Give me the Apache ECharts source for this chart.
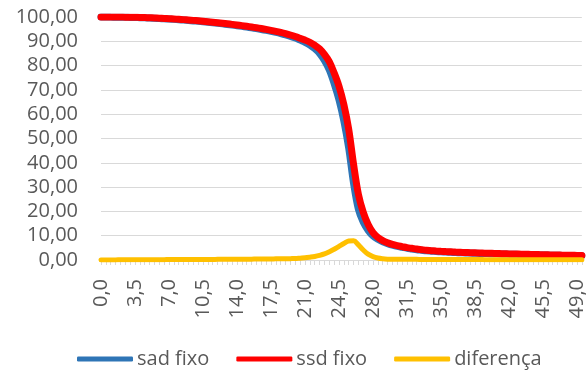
<!DOCTYPE html>
<html style="height: 100%">
<head>
<meta charset="utf-8">
<script src="https://cdn.jsdelivr.net/npm/echarts@6/dist/echarts.min.js"></script>
</head>
<body style="height: 100%; margin: 0; background: #fff">
<div id="container" style="width: 587px; height: 371px"></div>
<script type="text/javascript">
// categorias (0,0 ... 49,5 passo 0,5)
var categorias = [];
for (var i = 0; i < 100; i++) {
	categorias.push((i * 0.5).toFixed(1).replace('.', ','));
}

var nomes = ['sad fixo', 'ssd fixo', 'diferença'];

var sadFixo = [
	99.98, 99.97, 99.95, 99.93, 99.90, 99.87, 99.83, 99.78, 99.72, 99.65,
	99.57, 99.48, 99.38, 99.27, 99.15, 99.02, 98.88, 98.73, 98.57, 98.40,
	98.22, 98.03, 97.83, 97.62, 97.40, 97.17, 96.93, 96.68, 96.42, 96.14,
	95.84, 95.53, 95.20, 94.85, 94.48, 94.08, 93.64, 93.16, 92.63, 92.04,
	91.37, 90.50, 89.60, 88.45, 86.95, 85.00, 82.10, 78.20, 72.60, 65.90,
	57.20, 46.00, 31.50, 20.80, 15.50, 12.20, 9.90, 8.50, 7.50, 6.75,
	6.10, 5.58, 5.20, 4.82, 4.53, 4.24, 4.00, 3.76, 3.62, 3.48,
	3.36, 3.25, 3.16, 3.06, 2.99, 2.92, 2.85, 2.79, 2.72, 2.67,
	2.61, 2.56, 2.50, 2.45, 2.39, 2.34, 2.30, 2.25, 2.20, 2.16,
	2.11, 2.06, 2.02, 1.97, 1.93, 1.89, 1.86, 1.83, 1.80, 1.77
];

var ssdFixo = [
	100.00, 100.00, 99.99, 99.98, 99.96, 99.94, 99.91, 99.87, 99.82, 99.76,
	99.69, 99.61, 99.52, 99.42, 99.31, 99.19, 99.06, 98.92, 98.77, 98.61,
	98.44, 98.26, 98.07, 97.87, 97.66, 97.44, 97.21, 96.97, 96.72, 96.46,
	96.18, 95.89, 95.58, 95.25, 94.90, 94.52, 94.11, 93.66, 93.16, 92.60,
	91.97, 91.25, 90.50, 89.60, 88.40, 86.90, 84.60, 81.60, 77.00, 71.50,
	64.00, 53.80, 39.40, 27.00, 19.60, 14.60, 11.30, 9.30, 8.00, 7.10,
	6.40, 5.90, 5.50, 5.10, 4.80, 4.50, 4.25, 4.00, 3.85, 3.70,
	3.57, 3.45, 3.35, 3.25, 3.17, 3.09, 3.02, 2.95, 2.88, 2.82,
	2.76, 2.70, 2.64, 2.58, 2.52, 2.47, 2.42, 2.37, 2.32, 2.27,
	2.22, 2.17, 2.12, 2.07, 2.03, 1.99, 1.95, 1.92, 1.89, 1.86
];

var diferenca = [
	0.02, 0.03, 0.04, 0.05, 0.06, 0.07, 0.08, 0.09, 0.10, 0.11,
	0.12, 0.13, 0.14, 0.15, 0.16, 0.17, 0.18, 0.19, 0.20, 0.21,
	0.22, 0.23, 0.24, 0.25, 0.26, 0.27, 0.28, 0.29, 0.30, 0.32,
	0.34, 0.36, 0.38, 0.40, 0.42, 0.44, 0.47, 0.50, 0.53, 0.56,
	0.60, 0.75, 0.90, 1.15, 1.45, 1.90, 2.50, 3.40, 4.40, 5.60,
	6.80, 7.80, 7.90, 6.20, 4.10, 2.40, 1.40, 0.80, 0.50, 0.35,
	0.30, 0.32, 0.30, 0.28, 0.27, 0.26, 0.25, 0.24, 0.23, 0.22,
	0.21, 0.20, 0.19, 0.19, 0.18, 0.17, 0.17, 0.16, 0.16, 0.15,
	0.15, 0.14, 0.14, 0.13, 0.13, 0.13, 0.12, 0.12, 0.12, 0.11,
	0.11, 0.11, 0.10, 0.10, 0.10, 0.10, 0.09, 0.09, 0.09, 0.09
];

var cores = ['#2e75b6', '#ff0000', '#ffc000'];
var fonte = '"Open Sans", sans-serif';

var myChart = echarts.init(document.getElementById('container'));

var option = {
	animation: false,
	color: cores,
	grid: {
		left: 101,
		top: 17,
		width: 493,
		height: 243
	},
	legend: {
		data: nomes,
		left: 77,
		top: 349,
		padding: 0,
		icon: 'roundRect',
		itemWidth: 56,
		itemHeight: 5,
		itemGap: 27,
		textStyle: { color: '#595959', fontSize: 20, fontFamily: fonte, padding: [0, 0, 0, -1] }
	},
	xAxis: {
		type: 'category',
		data: categorias,
		boundaryGap: false,
		axisLine: { lineStyle: { color: '#d9d9d9', width: 1 } },
		axisTick: { interval: 0, length: 5, lineStyle: { color: '#d9d9d9' } },
		axisLabel: {
			interval: 6,
			rotate: 90,
			margin: 19,
			color: '#595959',
			fontSize: 20,
			fontFamily: fonte
		},
		splitLine: { show: false }
	},
	yAxis: {
		type: 'value',
		min: 0,
		max: 100,
		interval: 10,
		axisLine: { show: false },
		axisTick: { show: false },
		axisLabel: {
			margin: 23,
			color: '#595959',
			fontSize: 20,
			fontFamily: fonte,
			formatter: function (v) { return v.toFixed(2).replace('.', ','); }
		},
		splitLine: { lineStyle: { color: '#d9d9d9', width: 1 } }
	},
	series: [
		{
			name: nomes[0],
			type: 'line',
			data: sadFixo,
			smooth: 0.35,
			showSymbol: false,
			lineStyle: { width: 7, color: cores[0], cap: 'round' }
		},
		{
			name: nomes[1],
			type: 'line',
			data: ssdFixo,
			smooth: 0.35,
			showSymbol: false,
			lineStyle: { width: 7, color: cores[1], cap: 'round' }
		},
		{
			name: nomes[2],
			type: 'line',
			data: diferenca,
			smooth: 0.35,
			showSymbol: false,
			lineStyle: { width: 5, color: cores[2], cap: 'round' }
		}
	]
};

myChart.setOption(option);
</script>
</body>
</html>
